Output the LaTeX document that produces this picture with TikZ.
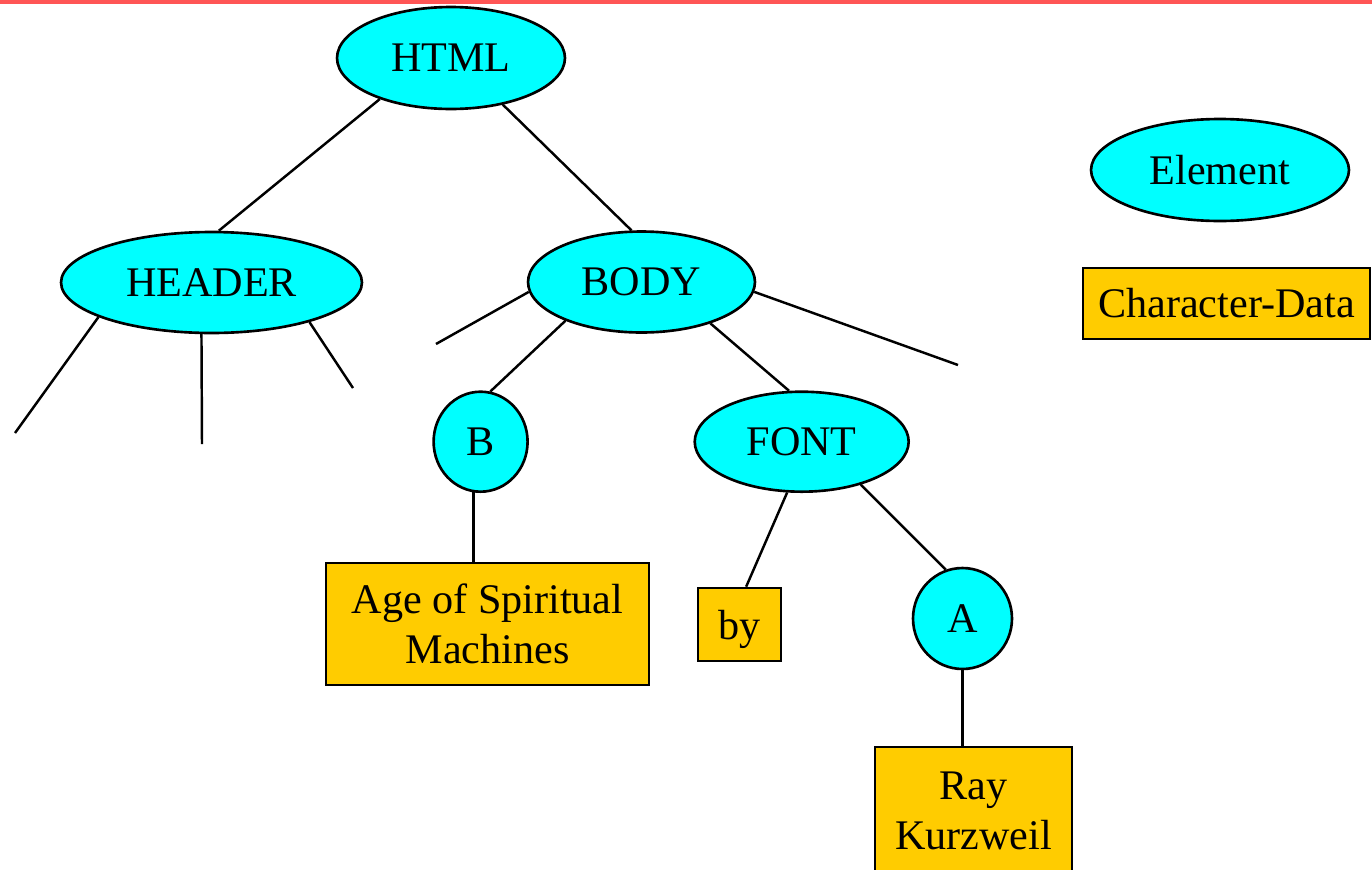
\documentclass[tikz,border=0pt]{standalone}
\usepackage{fontspec}
\setmainfont{Liberation Serif}
\usetikzlibrary{shapes.geometric}

\def\elements{{(451,58)/html/HTML/4.56/2.04}, {(211.5,282.5)/header/HEADER/6.02/2.02}, {(641.5,282)/body/BODY/4.54/2.02}, {(480.6,441.7)/b/B/1.88/2.0}, {(801.7,441.7)/font/FONT/4.28/2.0}, {(962.5,618.5)/a/A/1.98/2.02}, {(1220,170)/element/Element/5.16/2.04}}
\def\chardata{{(487.5,624)/age/{Age of Spiritual\\Machines}/6.46/2.44}, {(739.5,624.5)/by/{\raisebox{0pt}[\height][0pt]{by}}/1.66/1.46}, {(973.5,810.5)/ray/{Ray\\Kurzweil}/3.94/2.54}, {(1226.5,303.5)/legend/Character-Data/5.74/1.42}}
\def\loose{{(15,433)/h1}, {(202,444)/h2}, {(353,388)/h3}, {(436,344)/b1}, {(958,365)/b2}}
\definecolor{element fill}{RGB}{0,255,255}
\definecolor{data fill}{RGB}{255,204,0}
\definecolor{top rule}{RGB}{255,85,85}
\tikzstyle{elem}=[ellipse,draw=black,fill=element fill,line width=1.5pt,inner sep=0pt]
\tikzstyle{cdata}=[rectangle,draw=black,fill=data fill,line width=1.5pt,inner sep=0pt,align=center]
\tikzstyle{branch}=[draw,line width=1.4pt,-]

\begin{document}
\begin{tikzpicture}[x=0.02cm,y=-0.02cm,font=\fontsize{24}{28.5}\selectfont]

  \useasboundingbox (0,0) rectangle (1372,869);
  \fill[top rule] (0,0) rectangle (1372,3.5);

  % the element nodes
  \foreach \pos/\name/\word/\w/\h in \elements {
    \node[elem,minimum width=\w cm,minimum height=\h cm] (\name) at \pos {\word};
  }

  % the character data boxes
  \foreach \pos/\name/\word/\w/\h in \chardata {
    \node[cdata,minimum width=\w cm,minimum height=\h cm] (\name) at \pos {\word};
  }

  % ends of the children not drawn
  \foreach \pos/\name in \loose
    \path \pos coordinate (\name);

  % the tree
  \foreach \source/\sink in {html.210/header.82, html.318/body.101, body.207/b.79, body.329/font.104, font.254/by.80, font.324/a.109, header.197/h1, header.259/h2, header.338/h3, body.185/b1, body.355/b2}
    \path[branch] (\source) -- (\sink);
  \path[branch] (b.262) -- (b.262 |- age.north);
  \path[branch] (a.south) -- (a.south |- ray.north);

\end{tikzpicture}
\end{document}
